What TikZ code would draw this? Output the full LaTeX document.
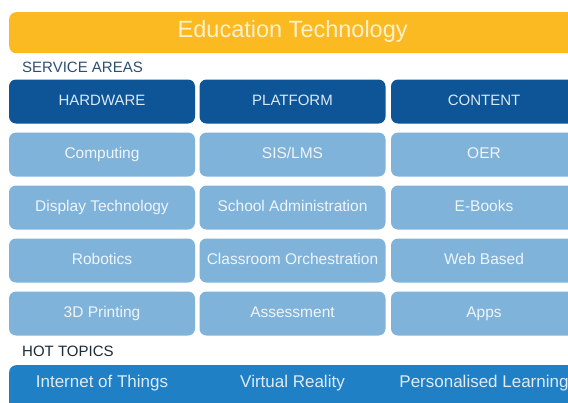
\documentclass[tikz,border=0pt]{standalone}
\usepackage{fontspec}
\setmainfont{Liberation Sans}
\definecolor{eduyellow}{HTML}{FBBA22}
\definecolor{titletext}{HTML}{FFF1CC}
\definecolor{headblue}{HTML}{0D5597}
\definecolor{headtext}{HTML}{DCE8F3}
\definecolor{itemblue}{HTML}{80B3DA}
\definecolor{itemtext}{HTML}{EEF5FB}
\definecolor{hotblue}{HTML}{1F80C6}
\definecolor{hottext}{HTML}{DDEBF7}
\definecolor{areagray}{HTML}{2E4F72}
\definecolor{topicgray}{HTML}{1E2A35}
\begin{document}
\begin{tikzpicture}[x=1pt,y=-1pt,
    cell/.style={rectangle,rounded corners=7pt,minimum width=186pt,minimum height=44pt,inner sep=0pt,text height=0.85em,text depth=0pt},
    head/.style={cell,fill=headblue,text=headtext,font=\fontsize{15}{18}\selectfont},
    item/.style={cell,fill=itemblue,text=itemtext,font=\fontsize{15.5}{18}\selectfont},
    bar/.style={rectangle,rounded corners=7pt,minimum width=567pt,anchor=north west,inner sep=0pt,text height=0.86em,text depth=0pt},
    caption/.style={anchor=west,inner sep=0pt,text height=0.72em,text depth=0pt,font=\fontsize{15}{18}\selectfont},
    topic/.style={text=hottext,inner sep=0pt,text height=0.72em,text depth=0pt,font=\fontsize{17}{20}\selectfont}]
    \useasboundingbox[fill=white] (0,0) rectangle (568,402);
    \clip (0,0) rectangle (568,402);
    \node[bar,fill=eduyellow,text=titletext,minimum height=41pt,font=\fontsize{23.5}{28}\selectfont] (title) at (9,12) {Education Technology};
    \node[caption,text=areagray] (areas) at (22,69) {SERVICE AREAS};
    \foreach \name/\x/\txt in {hw/102/HARDWARE,pf/292.5/PLATFORM,ct/484/CONTENT}
        \node[head] (\name) at (\x,101.5) {\txt};
    \foreach [count=\r] \a/\b/\c in {Computing/{SIS/LMS}/OER,
        Display Technology/School Administration/E-Books,
        Robotics/Classroom Orchestration/Web Based,
        3D Printing/Assessment/Apps} {
        \pgfmathsetmacro{\y}{101.5+53*\r}
        \node[item] (hw\r) at (102,\y) {\a};
        \node[item] (pf\r) at (292.5,\y) {\b};
        \node[item] (ct\r) at (484,\y) {\c};
    }
    \node[caption,text=topicgray] (topics) at (22,353) {HOT TOPICS};
    \node[bar,fill=hotblue,minimum height=50pt] (hotbar) at (9,365) {};
    \node[topic] (iot) at (102,383.5) {Internet of Things};
    \node[topic] (vr) at (292.5,383.5) {Virtual Reality};
    \node[topic] (pl) at (484,383.5) {Personalised Learning};
\end{tikzpicture}
\end{document}
